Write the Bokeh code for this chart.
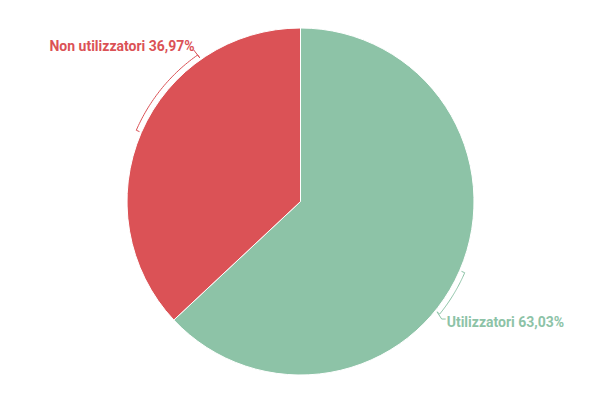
import numpy as np
from bokeh.plotting import figure
from bokeh.models import Range1d
from bokeh.core.properties import value
from bokeh.embed import file_html
from bokeh.resources import INLINE

# data
labels = ["Utilizzatori", "Non utilizzatori"]
shares = [63.03, 36.97]
colors = ["#8dc3a7", "#db5256"]

W, H = 584, 384
cx, cy, r = 300, 183, 173.5

p = figure(width=W, height=H, x_range=Range1d(0, W), y_range=Range1d(0, H),
           output_backend="svg", toolbar_location=None, min_border=0)
p.axis.visible = False
p.grid.visible = False
p.outline_line_color = None

frac = np.array(shares) / sum(shares)
cum = np.concatenate([[0], np.cumsum(frac)])
starts = np.pi / 2 - 2 * np.pi * cum[:-1]
ends = np.pi / 2 - 2 * np.pi * cum[1:]

p.wedge(x=cx, y=cy, radius=r, start_angle=starts, end_angle=ends,
        direction="clock", fill_color=colors, line_color="white", line_width=1)


def pt(theta_deg, rad):
    t = np.radians(theta_deg)
    return cx + rad * np.sin(t), cy + rad * np.cos(t)


# connector brackets: start at slice middle, run clockwise
spans = [15.5, 31.5]
rb = r + 5.5
for i, (lab, s) in enumerate(zip(labels, shares)):
    mid = 360 * (cum[i] + cum[i + 1]) / 2
    th = np.linspace(mid, mid + spans[i], 40)
    xs, ys = pt(th, rb)
    x0, y0 = pt(mid, r + 2)
    x1, y1 = pt(mid + spans[i], r + 2)
    bx = [x0] + list(xs) + [x1]
    by = [y0] + list(ys) + [y1]
    ex, ey = xs[-1], ys[-1]
    text = f"{lab} {s:.2f}%".replace(".", ",")
    if ex > cx:
        lx, ly = ex + 2, ey - 5
        p.line(bx + [lx, lx + 4], by + [ly, ly], line_color=colors[i], line_width=1)
        p.text(x=[lx + 5], y=[ly - 3], text=[text], text_color=colors[i],
               text_font=value("Roboto"), text_font_style="bold", text_font_size="14px",
               text_align="left", text_baseline="middle")
    else:
        lx, ly = ex - 4, ey + 5
        p.line(bx + [lx], by + [ly], line_color=colors[i], line_width=1)
        p.text(x=[lx + 1], y=[ly + 4], text=[text], text_color=colors[i],
               text_font=value("Roboto"), text_font_style="bold", text_font_size="14px",
               text_align="right", text_baseline="middle")

open("out.html", "w").write(file_html(p, INLINE))
